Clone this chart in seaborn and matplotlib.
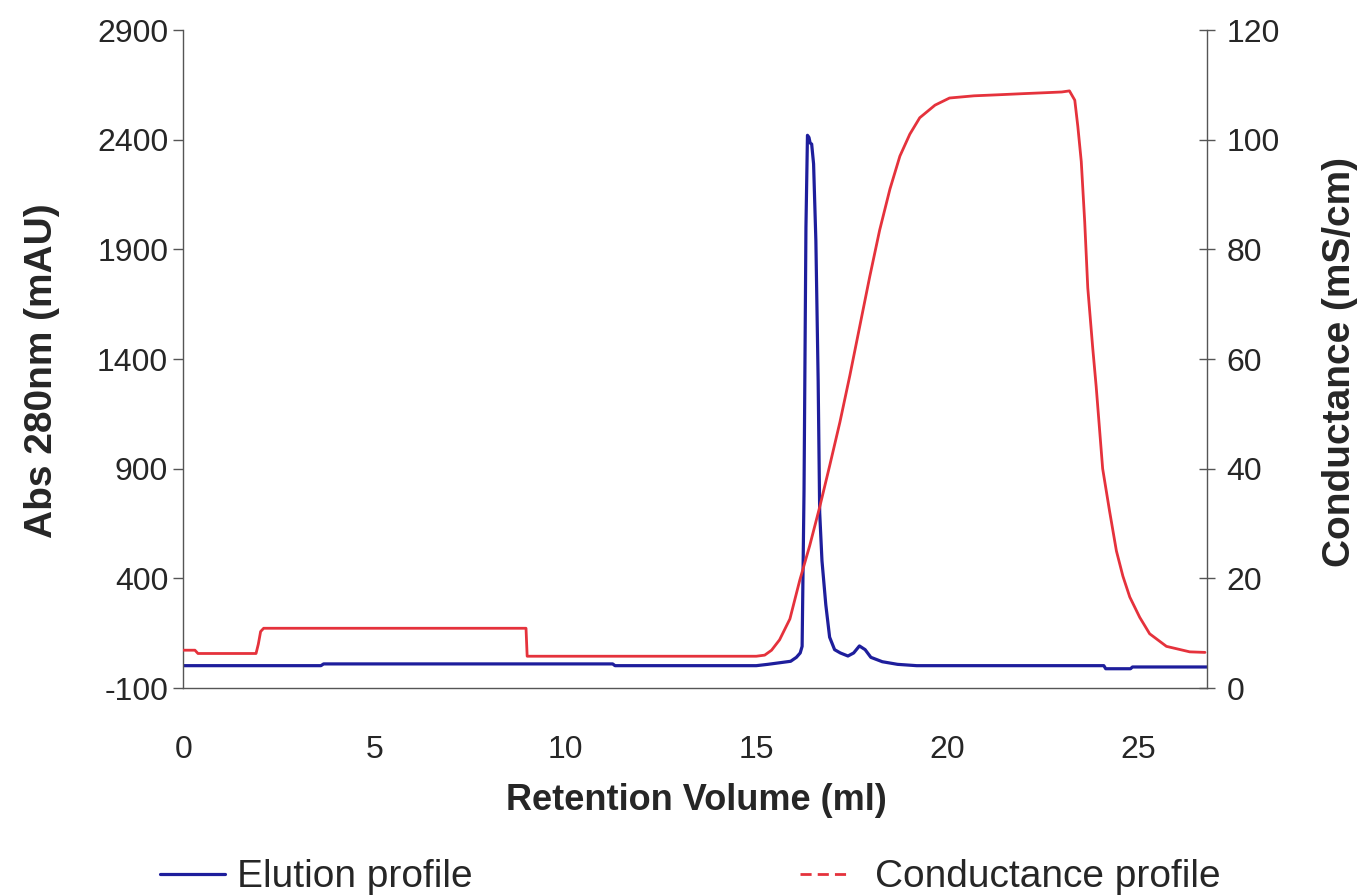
import matplotlib
matplotlib.use('Agg')
import matplotlib.pyplot as plt
from matplotlib.lines import Line2D
import seaborn as sns
import pandas as pd

# elution profile, Abs 280nm (mAU) against retention volume (ml)
elution_ml = [0.0, 3.6, 3.67, 11.24, 11.3, 15.0, 15.3, 15.6, 15.9, 16.05, 16.15, 16.2,
              16.25, 16.3, 16.34, 16.38, 16.41, 16.45, 16.5, 16.56, 16.62, 16.66, 16.72,
              16.82, 16.92, 17.05, 17.2, 17.4, 17.55, 17.7, 17.85, 18.0, 18.3, 18.7,
              19.2, 24.1, 24.15, 24.8, 24.85, 26.8]
elution_mau = [2, 2, 10, 10, 2, 2, 8, 15, 22, 40, 60, 90,
               800, 2000, 2420, 2410, 2385, 2380, 2290, 1940, 1300, 700, 480,
               280, 132, 75, 60, 46, 60, 92, 75, 40, 20, 8,
               2, 2, -12, -12, -4, -4]

# conductance profile (mS/cm)
cond_ml = [0.0, 0.3, 0.38, 1.9, 1.96, 2.02, 2.1, 8.97, 9.0, 15.0, 15.22, 15.4, 15.61,
           15.88, 16.14, 16.4, 16.66, 16.92, 17.19, 17.45, 17.71, 17.97, 18.23, 18.5,
           18.76, 19.02, 19.28, 19.68, 20.06, 20.7, 21.37, 22.0, 22.68, 23.0, 23.2,
           23.34, 23.42, 23.51, 23.6, 23.68, 23.81, 23.9, 24.07, 24.25, 24.43, 24.6,
           24.78, 25.04, 25.3, 25.74, 26.35, 26.75]
cond_ms = [6.9, 6.9, 6.3, 6.3, 8.0, 10.3, 10.9, 10.9, 5.8, 5.8, 6.0, 6.9, 8.8,
           12.6, 19.7, 26.0, 33.0, 40.5, 48.5, 57.0, 66.0, 75.0, 83.5, 91.0,
           97.0, 101.0, 104.0, 106.3, 107.6, 108.0, 108.2, 108.4, 108.6, 108.7, 108.9,
           107.2, 102.4, 96.0, 85.0, 73.0, 62.0, 55.0, 40.0, 32.3, 25.0, 20.4,
           16.6, 12.9, 9.9, 7.6, 6.6, 6.5]

x_ticks = [0, 5, 10, 15, 20, 25]
abs_ticks = [-100, 400, 900, 1400, 1900, 2400, 2900]
cond_ticks = [0, 20, 40, 60, 80, 100, 120]

blue = '#1e1e9c'
red = '#e5323c'

sns.set_style('white')
plt.rcParams['font.family'] = ['Liberation Sans', 'DejaVu Sans']
plt.rcParams['axes.unicode_minus'] = False

df_abs = pd.DataFrame({'ml': elution_ml, 'mAU': elution_mau})
df_cond = pd.DataFrame({'ml': cond_ml, 'mS': cond_ms})

fig = plt.figure(figsize=(13.57, 8.96), dpi=100)
ax = fig.add_axes([0.1352, 0.2321, 0.7542, 0.7344])

sns.lineplot(data=df_abs, x='ml', y='mAU', ax=ax, color=blue, lw=2.3,
             errorbar=None, sort=False)
ax2 = ax.twinx()
sns.lineplot(data=df_cond, x='ml', y='mS', ax=ax2, color=red, lw=2.0,
             errorbar=None, sort=False)

ax.set_xlim(0, 26.8)
ax.set_ylim(-100, 2900)
ax2.set_ylim(0, 120)
ax.set_xticks(x_ticks)
ax.set_yticks(abs_ticks)
ax2.set_yticks(cond_ticks)

for a in (ax, ax2):
    a.spines['top'].set_visible(False)
    for s in a.spines.values():
        s.set_color('#555555')
        s.set_linewidth(1.0)
ax.spines['right'].set_visible(False)
ax2.spines['left'].set_visible(False)
ax2.spines['bottom'].set_visible(False)

ax.tick_params(axis='x', direction='out', length=7, width=1, color='#555555',
               labelsize=23, pad=27)
ax.tick_params(axis='y', direction='out', length=7, width=1, color='#555555',
               labelsize=23, pad=4, left=True)
ax2.tick_params(axis='y', direction='inout', length=12, width=1, color='#555555',
                labelsize=23, pad=8, right=True)

ax.set_xlabel('Retention Volume (ml)', fontsize=26, fontweight='bold')
ax.xaxis.set_label_coords(0.501, -0.145)
ax.set_ylabel('Abs 280nm (mAU)', fontsize=28, fontweight='bold')
ax.yaxis.set_label_coords(-0.121, 0.483)
ax2.set_ylabel('Conductance (mS/cm)', fontsize=28, fontweight='bold')
ax2.yaxis.set_label_coords(1.112, 0.495)

leg_font = {'size': 28}
h1 = Line2D([], [], color=blue, lw=2.3)
h2 = Line2D([], [], color=red, lw=2.0, dashes=(4, 2.2))
fig.legend([h1], ['Elution profile'], loc='center left',
           bbox_to_anchor=(160 / 1357, 0.021), frameon=False, prop=leg_font,
           handlelength=1.67, handletextpad=0.3, borderpad=0, borderaxespad=0)
fig.legend([h2], ['Conductance profile'], loc='center left',
           bbox_to_anchor=(800 / 1357, 0.021), frameon=False, prop=leg_font,
           handlelength=1.28, handletextpad=0.64, borderpad=0, borderaxespad=0)

fig.savefig('out.png', dpi=100)
